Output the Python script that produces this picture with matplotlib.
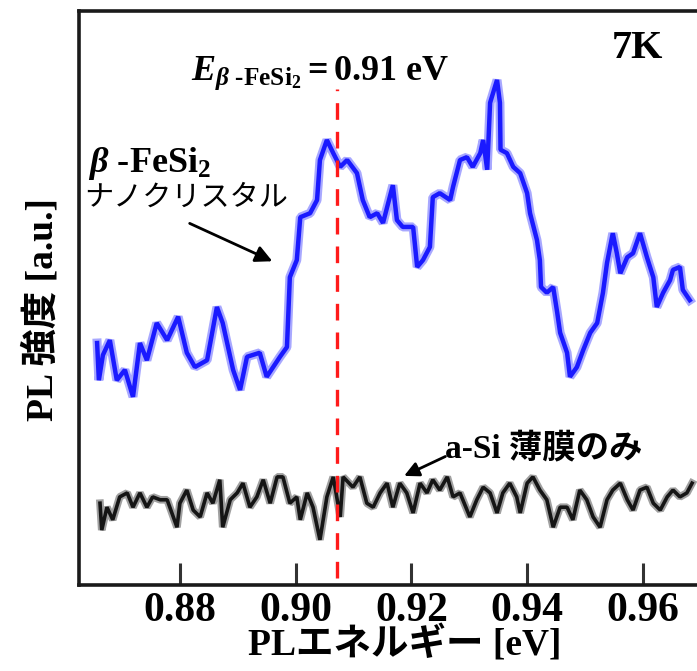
import matplotlib
matplotlib.use("Agg")
import matplotlib.pyplot as plt

plt.rcParams['font.family'] = ['Liberation Serif', 'Noto Sans CJK JP']
plt.rcParams['mathtext.fontset'] = 'custom'
plt.rcParams['mathtext.rm'] = 'Liberation Serif:bold'
plt.rcParams['mathtext.it'] = 'Liberation Serif:italic:bold'
plt.rcParams['mathtext.bf'] = 'Liberation Serif:bold'

# PL spectrum of beta-FeSi2 nanocrystals (blue), energy [eV] / intensity [a.u.]
fesi_energy = [0.8657, 0.8660, 0.8667, 0.8679, 0.8691, 0.8705, 0.8719, 0.8731, 0.8743, 0.8760,
               0.8778, 0.8797, 0.8812, 0.8826, 0.8847, 0.8864, 0.8874, 0.8892, 0.8904, 0.8916,
               0.8938, 0.8950, 0.8973, 0.8985, 0.8990, 0.9002, 0.9008, 0.9025, 0.9037, 0.9042,
               0.9054, 0.9065, 0.9077, 0.9089, 0.9106, 0.9116, 0.9128, 0.9141, 0.9151, 0.9168,
               0.9175, 0.9185, 0.9203, 0.9210, 0.9220, 0.9232, 0.9237, 0.9249, 0.9267, 0.9272,
               0.9284, 0.9296, 0.9306, 0.9319, 0.9324, 0.9331, 0.9336, 0.9348, 0.9353, 0.9354,
               0.9365, 0.9376, 0.9388, 0.9400, 0.9405, 0.9417, 0.9422, 0.9424, 0.9434, 0.9445,
               0.9452, 0.9457, 0.9469, 0.9474, 0.9486, 0.9497, 0.9509, 0.9521, 0.9531, 0.9538,
               0.9548, 0.9555, 0.9561, 0.9573, 0.9583, 0.9595, 0.9607, 0.9618, 0.9624, 0.9635,
               0.9647, 0.9652, 0.9664, 0.9669, 0.9681]
fesi_intensity = [42.3, 35.8, 40.2, 42.8, 35.8, 37.6, 32.9, 42.3, 39.3, 45.8,
                  42.8, 46.9, 40.6, 38.1, 39.3, 48.6, 45.8, 37.6, 34.1, 39.9,
                  40.6, 36.4, 39.9, 41.6, 53.8, 56.8, 64.3, 65.0, 67.3, 74.3,
                  77.8, 75.5, 73.1, 74.3, 72.0, 67.3, 64.3, 65.0, 63.3, 69.9,
                  63.8, 62.6, 62.6, 55.6, 56.8, 59.1, 67.8, 68.5, 67.3, 69.6,
                  74.3, 74.8, 73.1, 75.5, 77.8, 72.6, 84.3, 88.3, 84.3, 76.1,
                  75.5, 73.1, 72.0, 68.5, 65.0, 60.3, 56.8, 52.1, 51.1, 52.1,
                  47.6, 44.1, 40.6, 36.4, 38.1, 41.1, 44.1, 45.8, 51.1, 56.3,
                  61.5, 58.0, 54.5, 57.3, 58.0, 61.5, 57.3, 53.8, 48.6, 51.1,
                  53.3, 55.1, 55.6, 51.6, 49.8]

# PL spectrum of a-Si thin film only (black)
asi_energy = [0.8662, 0.8665, 0.8674, 0.8684, 0.8696, 0.8709, 0.8719, 0.8731, 0.8743, 0.8753,
              0.8766, 0.8778, 0.8795, 0.8800, 0.8812, 0.8823, 0.8835, 0.8847, 0.8857, 0.8869,
              0.8874, 0.8887, 0.8899, 0.8909, 0.8921, 0.8933, 0.8944, 0.8956, 0.8968, 0.8978,
              0.8990, 0.9002, 0.9008, 0.9020, 0.9030, 0.9042, 0.9054, 0.9065, 0.9077, 0.9082,
              0.9099, 0.9111, 0.9123, 0.9134, 0.9146, 0.9158, 0.9168, 0.9180, 0.9192, 0.9203,
              0.9215, 0.9227, 0.9237, 0.9249, 0.9262, 0.9272, 0.9284, 0.9301, 0.9313, 0.9324,
              0.9336, 0.9348, 0.9358, 0.9370, 0.9382, 0.9388, 0.9400, 0.9410, 0.9422, 0.9434,
              0.9445, 0.9457, 0.9469, 0.9479, 0.9491, 0.9503, 0.9514, 0.9526, 0.9538, 0.9548,
              0.9561, 0.9573, 0.9583, 0.9595, 0.9607, 0.9618, 0.9630, 0.9642, 0.9652, 0.9664,
              0.9676, 0.9685]
asi_intensity = [14.3, 9.6, 13.6, 11.4, 15.4, 16.1, 13.6, 16.1, 13.6, 15.4,
                 14.9, 14.9, 10.1, 14.3, 16.6, 13.1, 11.9, 16.1, 14.3, 18.4,
                 10.1, 14.9, 16.1, 17.8, 13.6, 15.4, 18.4, 14.3, 18.9, 18.9,
                 14.3, 15.4, 11.4, 16.1, 13.6, 7.9, 15.4, 18.9, 11.9, 18.9,
                 17.1, 18.9, 14.3, 13.6, 16.1, 17.8, 13.6, 17.8, 16.1, 12.6,
                 17.8, 16.1, 18.4, 16.6, 18.9, 15.4, 16.1, 11.9, 14.9, 17.1,
                 16.1, 12.6, 16.1, 17.8, 15.4, 12.6, 17.8, 18.9, 16.6, 14.9,
                 10.1, 13.6, 13.6, 11.4, 16.6, 14.9, 11.9, 10.1, 14.9, 16.6,
                 17.8, 14.9, 13.1, 16.6, 17.1, 14.3, 13.1, 15.4, 16.6, 15.4,
                 16.1, 17.8]

peak_energy = 0.9071
xticks = [0.88, 0.90, 0.92, 0.94, 0.96]

fig = plt.figure(figsize=(6.97, 6.71), dpi=100)
ax = fig.add_axes([79 / 697, 1 - 585 / 671, 618 / 697, 574 / 671])

# thick lines with a light halo, like the scanned original
ax.plot(fesi_energy, fesi_intensity, color='#a8a8ff', lw=6.5, solid_joinstyle='bevel')
ax.plot(fesi_energy, fesi_intensity, color='#1a1aff', lw=3.2, solid_joinstyle='bevel')
ax.plot(asi_energy, asi_intensity, color='#a0a0a0', lw=5.5, solid_joinstyle='bevel')
ax.plot(asi_energy, asi_intensity, color='#151515', lw=2.6, solid_joinstyle='bevel')

ax.plot([peak_energy, peak_energy], [1.2, 86.8], color='#ff1a1a', lw=2.4,
        dashes=(5, 3.6))

ax.set_xlim(0.86257, 0.96935)
ax.set_ylim(0, 100.35)
ax.set_xticks(xticks)
ax.set_xticklabels(['%.2f' % t for t in xticks])
ax.set_yticks([])
ax.tick_params(axis='x', direction='in', length=16, width=2.2, color='#333333',
               pad=5, labelsize=30)
for lab in ax.get_xticklabels():
    lab.set_fontweight('bold')

for side in ['left', 'top', 'bottom']:
    ax.spines[side].set_linewidth(2.6)
    ax.spines[side].set_color('#1a1a1a')
ax.spines['right'].set_visible(False)

# annotations
ax.text(0.903, 0.918, '7K', transform=ax.transAxes, ha='center', va='baseline',
        fontsize=29, fontweight='bold')
ax.text(0.181, 0.880, r'$E_{\beta\ \text{-FeSi}_2} = \mathrm{0.91\ eV}$',
        transform=ax.transAxes, ha='left', va='baseline', fontsize=26)
ax.text(0.015, 0.7195, r'$\beta\ \text{-FeSi}_2$', transform=ax.transAxes,
        ha='left', va='baseline', fontsize=26)
ax.text(0.008, 0.674, 'ナノクリスタル', transform=ax.transAxes, ha='left',
        va='center', fontsize=21, family=['Noto Sans CJK JP'])
ax.annotate('', xy=(0.317, 0.562), xytext=(0.175, 0.632), xycoords='axes fraction',
            arrowprops=dict(arrowstyle='-|>', color='black', lw=2,
                            mutation_scale=25))
ax.text(0.592, 0.2387, 'a-Si 薄膜のみ', transform=ax.transAxes, ha='left',
        va='center', fontsize=24, fontweight='bold')
ax.annotate('', xy=(0.522, 0.188), xytext=(0.597, 0.226), xycoords='axes fraction',
            arrowprops=dict(arrowstyle='-|>', color='black', lw=2,
                            mutation_scale=22))

fig.text(405 / 697, 1 - 645 / 671, 'PLエネルギー [eV]', ha='center', va='center',
         fontsize=27, fontweight='bold')
fig.text(42 / 697, 1 - 310 / 671, 'PL 強度 [a.u.]', ha='center', va='center',
         rotation=90, fontsize=27, fontweight='bold')

fig.savefig('out.png', dpi=100)
